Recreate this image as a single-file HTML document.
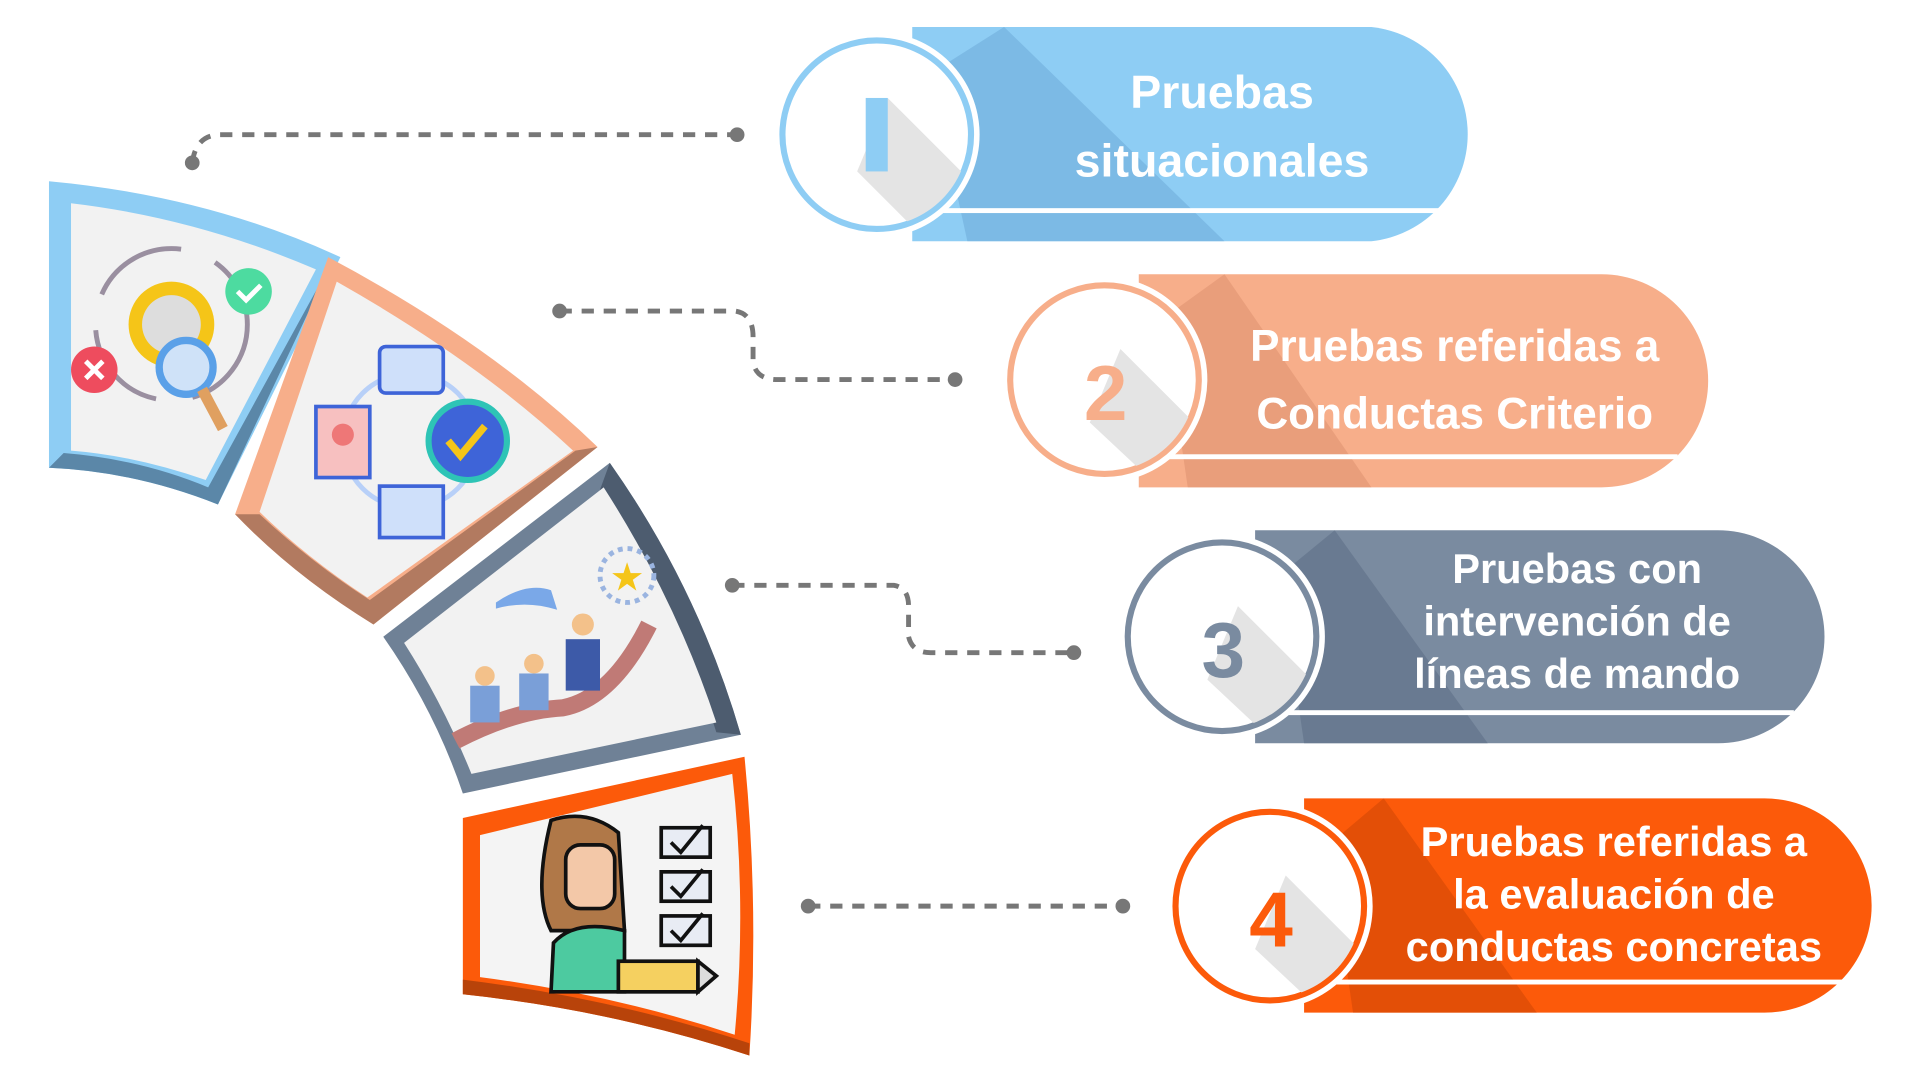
<!DOCTYPE html>
<html><head><meta charset="utf-8"><style>
html,body{margin:0;padding:0;background:#fff;width:1920px;height:1080px;overflow:hidden}
svg{display:block}
text{font-family:"Liberation Sans",sans-serif;font-weight:bold;fill:#fff;text-anchor:middle}
</style></head><body>
<svg width="1920" height="1080" viewBox="0 0 1568 882" xmlns="http://www.w3.org/2000/svg">
<defs>
<clipPath id="c1"><circle cx="716" cy="110" r="75"/></clipPath>
<clipPath id="c2"><circle cx="902" cy="310" r="75"/></clipPath>
<clipPath id="c3"><circle cx="998" cy="520" r="75"/></clipPath>
<clipPath id="c4"><circle cx="1037" cy="740" r="75"/></clipPath>
</defs>
<g stroke="#777" stroke-width="4" stroke-dasharray="10 8" fill="none">
<path d="M157 133 Q160 110 180 110 L602 110"/>
<path d="M457 254 L600 254 Q615 256 615 275 L615 295 Q617 310 635 310 L780 310"/>
<path d="M598 478 L730 478 Q742 480 742 495 L742 520 Q745 533 760 533 L877 533"/>
<path d="M660 740 L917 740"/>
</g>
<g fill="#777">
<circle cx="157" cy="133" r="6"/><circle cx="602" cy="110" r="6"/>
<circle cx="457" cy="254" r="6"/><circle cx="780" cy="310" r="6"/>
<circle cx="598" cy="478" r="6"/><circle cx="877" cy="533" r="6"/>
<circle cx="660" cy="740" r="6"/><circle cx="917" cy="740" r="6"/>
</g>
<path d="M40 148 Q170 160 278 210 L178 412 Q110 385 40 382 Z" fill="#8ecdf4"/>
<path d="M272 212 L178 412 Q110 385 40 382 L52 370 Q115 375 170 398 Z" fill="#5b87a8"/>
<path d="M58 166 Q160 178 258 220 L168 392 Q110 372 58 368 Z" fill="#f2f2f2"/>
<path d="M268 210 Q400 280 488 365 L305 510 Q240 470 192 420 Z" fill="#f7ae8a"/>
<path d="M488 365 L305 510 Q240 470 192 420 L212 420 Q255 460 302 490 L470 368 Z" fill="#b27a60"/>
<path d="M275 230 Q390 295 468 368 L300 488 Q250 455 212 418 Z" fill="#f2f2f2"/>
<path d="M498 378 Q570 480 605 600 L378 648 Q355 580 313 520 Z" fill="#6f8196"/>
<path d="M498 378 Q570 480 605 600 L585 598 Q552 490 490 400 Z" fill="#4d5c6f"/>
<path d="M493 398 Q552 490 585 590 L385 632 Q362 575 330 525 Z" fill="#f2f2f2"/>
<path d="M378 668 L608 618 Q620 740 612 862 Q500 825 378 812 Z" fill="#fc5a0a"/>
<path d="M378 800 Q500 815 612 852 L612 862 Q500 825 378 812 Z" fill="#b8430a"/>
<path d="M392 682 L598 632 Q610 740 600 845 Q500 812 392 798 Z" fill="#f4f4f4"/>
<circle cx="140" cy="265" r="62" fill="none" stroke="#9a8fa0" stroke-width="4" stroke-dasharray="80 30"/>
<circle cx="140" cy="265" r="35" fill="#f5c518"/>
<circle cx="140" cy="265" r="24" fill="#ddd"/>
<circle cx="152" cy="300" r="22" fill="#cfe2f8" stroke="#5aa0e8" stroke-width="6"/>
<path d="M165 318 L182 350" stroke="#e0a060" stroke-width="9"/>
<circle cx="203" cy="238" r="19" fill="#4ddba0"/><path d="M194 238 l7 7 l12 -12" stroke="#fff" stroke-width="4" fill="none"/>
<circle cx="77" cy="302" r="19" fill="#ee4c5e"/><path d="M70 295 l14 14 M84 295 l-14 14" stroke="#fff" stroke-width="4"/>
<circle cx="335" cy="360" r="55" fill="none" stroke="#b8d0f8" stroke-width="4"/>
<rect x="310" y="283" width="52" height="38" rx="5" fill="#cfe0fa" stroke="#3e64d8" stroke-width="3"/>
<rect x="258" y="332" width="44" height="58" fill="#f7c0c0" stroke="#3e64d8" stroke-width="3"/>
<circle cx="280" cy="355" r="9" fill="#ee7777"/>
<rect x="310" y="397" width="52" height="42" fill="#cfe0fa" stroke="#3e64d8" stroke-width="3"/>
<circle cx="382" cy="360" r="32" fill="#3e64d8" stroke="#2ec4b6" stroke-width="5"/>
<path d="M366 360 l10 12 l20 -24" stroke="#f5c518" stroke-width="6" fill="none"/>
<circle cx="512" cy="470" r="22" fill="none" stroke="#9ab4e0" stroke-width="4" stroke-dasharray="4 4"/>
<text x="512" y="481" font-size="28" style="fill:#f5c518">★</text>
<path d="M372 605 Q420 580 460 578 Q500 570 530 510" stroke="#c07a76" stroke-width="14" fill="none"/>
<rect x="384" y="560" width="24" height="30" fill="#7a9fd8"/><circle cx="396" cy="552" r="8" fill="#f3c18a"/>
<rect x="424" y="550" width="24" height="30" fill="#7a9fd8"/><circle cx="436" cy="542" r="8" fill="#f3c18a"/>
<rect x="462" y="522" width="28" height="42" fill="#3d5aa8"/><circle cx="476" cy="510" r="9" fill="#f3c18a"/>
<path d="M405 492 Q430 475 450 482 L455 498 Q430 490 405 497Z" fill="#7aa8e8"/>
<path d="M450 670 Q480 660 505 680 L510 760 L450 760 Q435 730 450 670Z" fill="#b07848" stroke="#111" stroke-width="3"/>
<rect x="462" y="690" width="40" height="52" rx="12" fill="#f3c8a8" stroke="#111" stroke-width="3"/>
<path d="M450 810 L452 770 Q470 750 510 760 L510 810Z" fill="#4dcaa0" stroke="#111" stroke-width="3"/>
<rect x="505" y="785" width="65" height="25" fill="#f5d060" stroke="#111" stroke-width="3"/>
<path d="M570 785 L585 797 L570 810Z" fill="#ddd" stroke="#111" stroke-width="3"/>
<g fill="#e8ecf4" stroke="#111" stroke-width="3">
<rect x="540" y="676" width="40" height="24"/><rect x="540" y="712" width="40" height="24"/><rect x="540" y="748" width="40" height="24"/>
</g>
<path d="M548 688 l8 8 l18 -22 M548 724 l8 8 l18 -22 M548 760 l8 8 l18 -22" stroke="#111" stroke-width="3" fill="none"/>

<g>
<path d="M745 22 L1120 22 A88 88 0 0 1 1120 197 L745 197 Z" fill="#8ecdf4"/>
<path d="M760 60 L820 22 L1000 197 L790 197Z" fill="#6faedb" opacity="0.6"/>
<rect x="770" y="170" width="415" height="4" fill="#fff"/>
<circle cx="716" cy="110" r="84" fill="#fff"/>
<circle cx="716" cy="110" r="77" fill="#fff" stroke="#8ecdf4" stroke-width="5"/>
<g clip-path="url(#c1)"><path d="M725 80 L830 185 L780 220 L700 140Z" fill="#e4e4e4"/></g>
<rect x="707" y="80" width="18" height="60" fill="#8ecdf4"/>
<text x="998" y="88" font-size="38">Pruebas</text>
<text x="998" y="144" font-size="38">situacionales</text>
</g>
<g>
<path d="M930 224 L1308 224 A87 87 0 0 1 1308 398 L930 398 Z" fill="#f7ae8a"/>
<path d="M950 260 L1000 224 L1120 398 L970 398Z" fill="#e09272" opacity="0.6"/>
<rect x="955" y="371" width="415" height="4" fill="#fff"/>
<circle cx="902" cy="310" r="84" fill="#fff"/>
<circle cx="902" cy="310" r="77" fill="#fff" stroke="#f7ae8a" stroke-width="5"/>
<g clip-path="url(#c2)"><path d="M915 285 L1020 390 L970 420 L890 345Z" fill="#e4e4e4"/></g>
<text x="903" y="343" font-size="64" style="fill:#f7ae8a">2</text>
<text x="1188" y="295" font-size="36">Pruebas referidas a</text>
<text x="1188" y="350" font-size="36">Conductas Criterio</text>
</g>
<g>
<path d="M1025 433 L1403 433 A87 87 0 0 1 1403 607 L1025 607 Z" fill="#7a8ba0"/>
<path d="M1045 470 L1090 433 L1215 607 L1065 607Z" fill="#63748a" opacity="0.7"/>
<rect x="1050" y="580" width="415" height="4" fill="#fff"/>
<circle cx="998" cy="520" r="84" fill="#fff"/>
<circle cx="998" cy="520" r="77" fill="#fff" stroke="#7a8ba0" stroke-width="5"/>
<g clip-path="url(#c3)"><path d="M1011 495 L1116 600 L1066 630 L986 555Z" fill="#e4e4e4"/></g>
<text x="999" y="553" font-size="64" style="fill:#7a8ba0">3</text>
<text x="1288" y="476" font-size="34">Pruebas con</text>
<text x="1288" y="519" font-size="34">intervención de</text>
<text x="1288" y="562" font-size="34">líneas de mando</text>
</g>
<g>
<path d="M1065 652 L1441 652 A87 87 0 0 1 1441 827 L1065 827 Z" fill="#fc5a0a"/>
<path d="M1085 690 L1130 652 L1255 827 L1105 827Z" fill="#d94a05" opacity="0.7"/>
<rect x="1090" y="800" width="415" height="4" fill="#fff"/>
<circle cx="1037" cy="740" r="84" fill="#fff"/>
<circle cx="1037" cy="740" r="77" fill="#fff" stroke="#fc5a0a" stroke-width="5"/>
<g clip-path="url(#c4)"><path d="M1050 715 L1155 820 L1105 850 L1025 775Z" fill="#e4e4e4"/></g>
<text x="1038" y="773" font-size="64" style="fill:#fc5a0a">4</text>
<text x="1318" y="699" font-size="34">Pruebas referidas a</text>
<text x="1318" y="742" font-size="34">la evaluación de</text>
<text x="1318" y="785" font-size="34">conductas concretas</text>
</g>
</svg>
</body></html>
